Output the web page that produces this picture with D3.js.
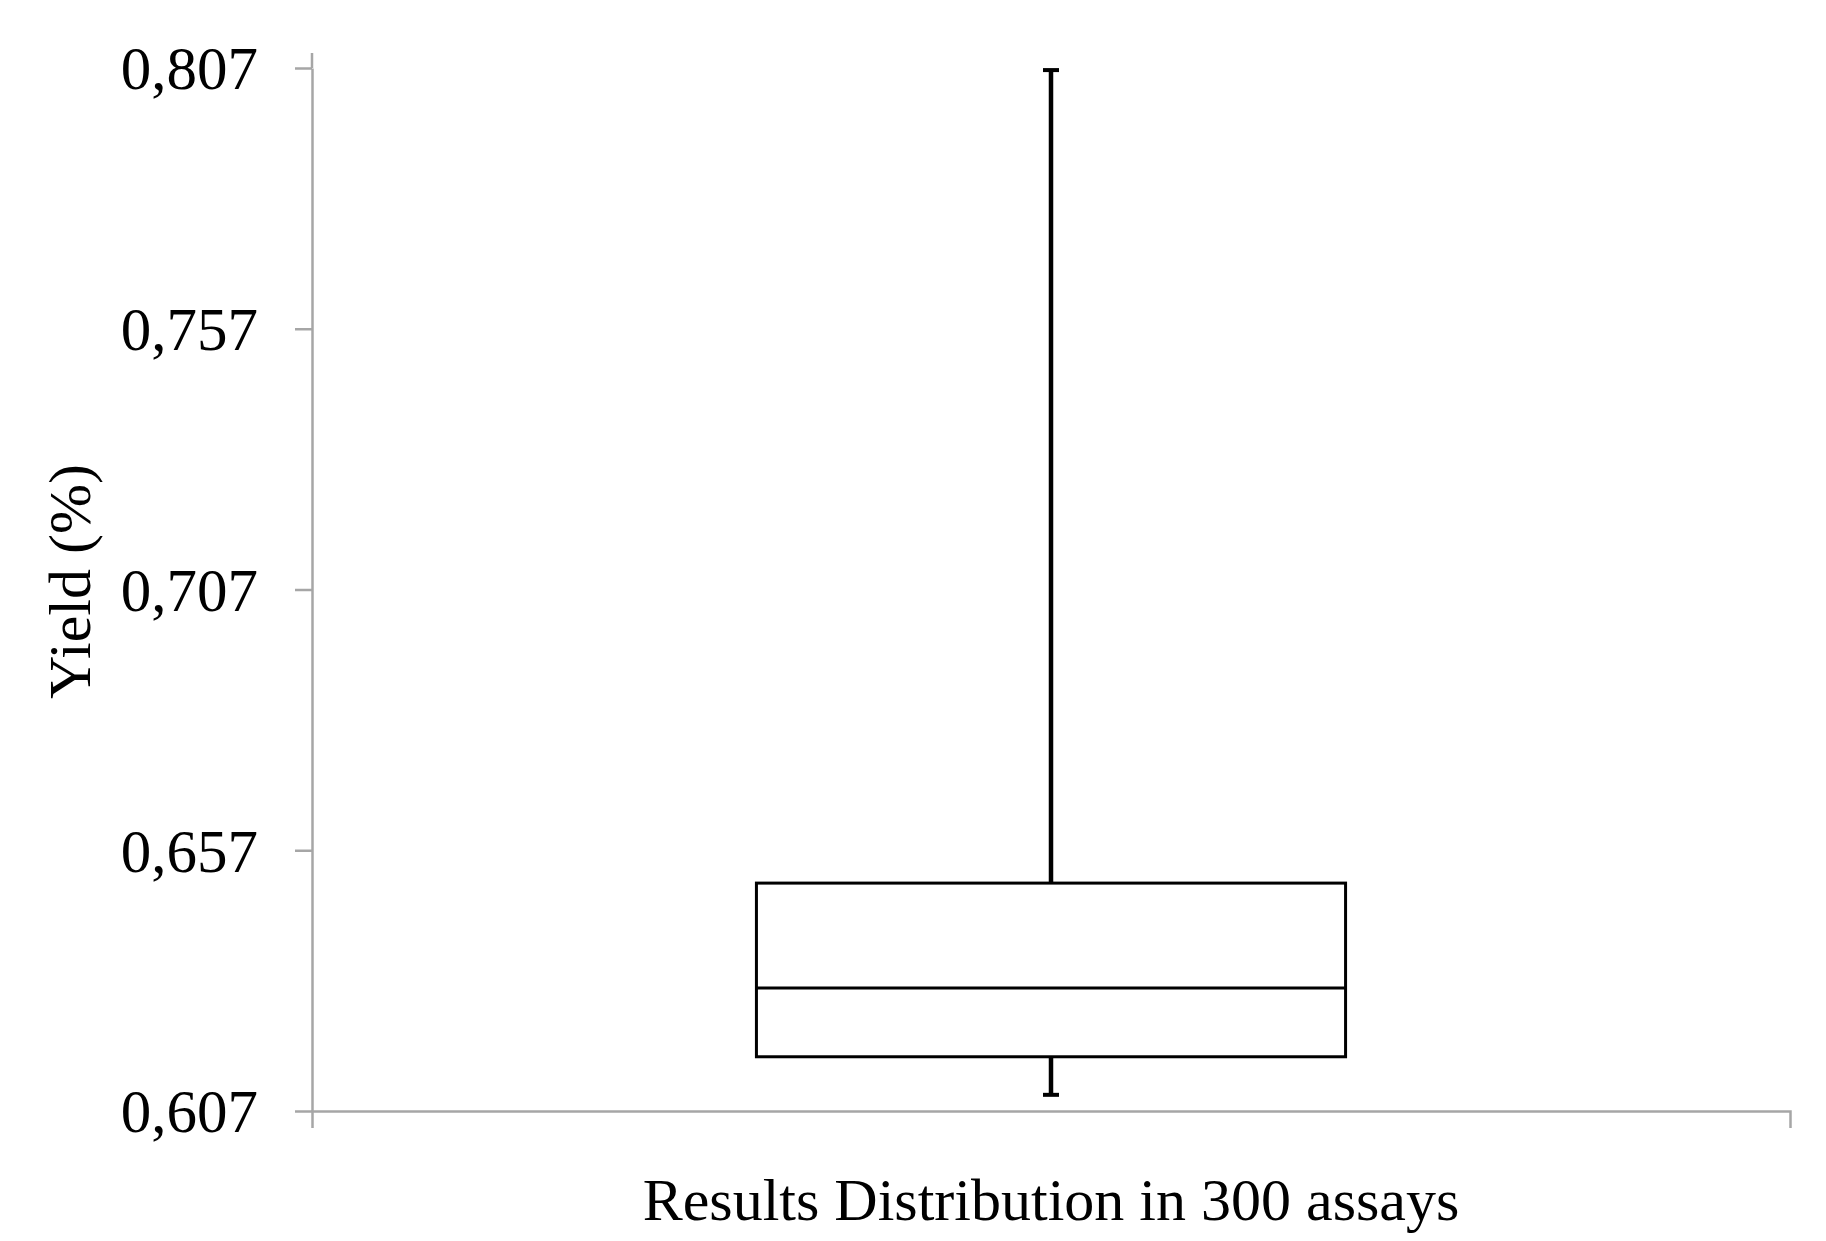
<!DOCTYPE html>
<html>
<head>
<meta charset="utf-8">
<script src="https://cdn.jsdelivr.net/npm/d3@7"></script>
<style>
  body { margin: 0; background: #fff; }
  svg { display: block; }
  .axis path, .axis line { stroke: #a6a6a6; stroke-width: 2.5; }
  .axis text { font-family: "Liberation Serif", "Times New Roman", serif; fill: #000; }
</style>
</head>
<body>
<div id="chart"></div>
<script>
// data
var categories = ["Results Distribution in 300 assays"];
var minVals    = [0.6101];
var q1Vals     = [0.6174];
var medianVals = [0.6306];
var q3Vals     = [0.6507];
var maxVals    = [0.8066];
var yTicks     = [0.607, 0.657, 0.707, 0.757, 0.807];

var W = 1826, H = 1241;
var margin = {top: 68, right: 36, bottom: 130, left: 312},
    width = W - margin.left - margin.right,
    height = H - margin.top - margin.bottom;

var boxes = categories.map(function(c, i) {
  return {cat: c, min: minVals[i], q1: q1Vals[i], med: medianVals[i], q3: q3Vals[i], max: maxVals[i]};
});

var x = d3.scaleBand().domain(categories).range([0, width]).padding(0.43);
var y = d3.scaleLinear().domain([0.607, 0.807]).range([height, 0]);

var svg = d3.select("#chart").append("svg")
    .attr("width", W)
    .attr("height", H)
  .append("g")
    .attr("transform", "translate(" + margin.left + "," + margin.top + ")");

// Y axis
var yAxis = svg.append("g")
    .attr("class", "axis y")
    .call(d3.axisLeft(y)
      .tickValues(yTicks)
      .tickSize(17)
      .tickSizeOuter(0)
      .tickPadding(37)
      .tickFormat(function(d) { return d.toFixed(3).replace(".", ","); }));
yAxis.selectAll("text").style("font-size", "61px").attr("dy", "0.34em");
// the axis line runs a bit past the top tick
yAxis.append("line")
    .attr("x1", 0).attr("x2", 0)
    .attr("y1", y.range()[1] - 15).attr("y2", y.range()[1]);

// X axis
var xAxis = svg.append("g")
    .attr("class", "axis x")
    .attr("transform", "translate(0," + height + ")")
    .call(d3.axisBottom(x).tickSize(0).tickSizeOuter(17).tickPadding(66));
xAxis.selectAll("text").style("font-size", "60px");

// Y axis title
svg.append("text")
    .attr("transform", "translate(" + (90 - margin.left) + "," + (y(0.707) - 8) + ") rotate(-90)")
    .attr("text-anchor", "middle")
    .style("font-family", "Liberation Serif, Times New Roman, serif")
    .style("font-size", "60px")
    .style("fill", "#000")
    .text("Yield (%)");

// box plot
var g = svg.selectAll(".box").data(boxes).enter().append("g").attr("class", "box");
var cx = function(d) { return x(d.cat) + x.bandwidth() / 2; };
var capW = 16;

// whiskers
g.append("line")
    .attr("x1", cx).attr("x2", cx)
    .attr("y1", function(d) { return y(d.q3); })
    .attr("y2", function(d) { return y(d.max); })
    .attr("stroke", "#000").attr("stroke-width", 4.5);
g.append("line")
    .attr("x1", cx).attr("x2", cx)
    .attr("y1", function(d) { return y(d.q1); })
    .attr("y2", function(d) { return y(d.min); })
    .attr("stroke", "#000").attr("stroke-width", 4.5);
// caps
g.append("line")
    .attr("x1", function(d) { return cx(d) - capW / 2; })
    .attr("x2", function(d) { return cx(d) + capW / 2; })
    .attr("y1", function(d) { return y(d.max); })
    .attr("y2", function(d) { return y(d.max); })
    .attr("stroke", "#000").attr("stroke-width", 4);
g.append("line")
    .attr("x1", function(d) { return cx(d) - capW / 2; })
    .attr("x2", function(d) { return cx(d) + capW / 2; })
    .attr("y1", function(d) { return y(d.min); })
    .attr("y2", function(d) { return y(d.min); })
    .attr("stroke", "#000").attr("stroke-width", 4);

// box
g.append("rect")
    .attr("x", function(d) { return x(d.cat); })
    .attr("y", function(d) { return y(d.q3); })
    .attr("width", x.bandwidth())
    .attr("height", function(d) { return y(d.q1) - y(d.q3); })
    .attr("fill", "#fff")
    .attr("stroke", "#000")
    .attr("stroke-width", 3);
// median
g.append("line")
    .attr("x1", function(d) { return x(d.cat); })
    .attr("x2", function(d) { return x(d.cat) + x.bandwidth(); })
    .attr("y1", function(d) { return y(d.med); })
    .attr("y2", function(d) { return y(d.med); })
    .attr("stroke", "#000").attr("stroke-width", 3);
</script>
</body>
</html>
